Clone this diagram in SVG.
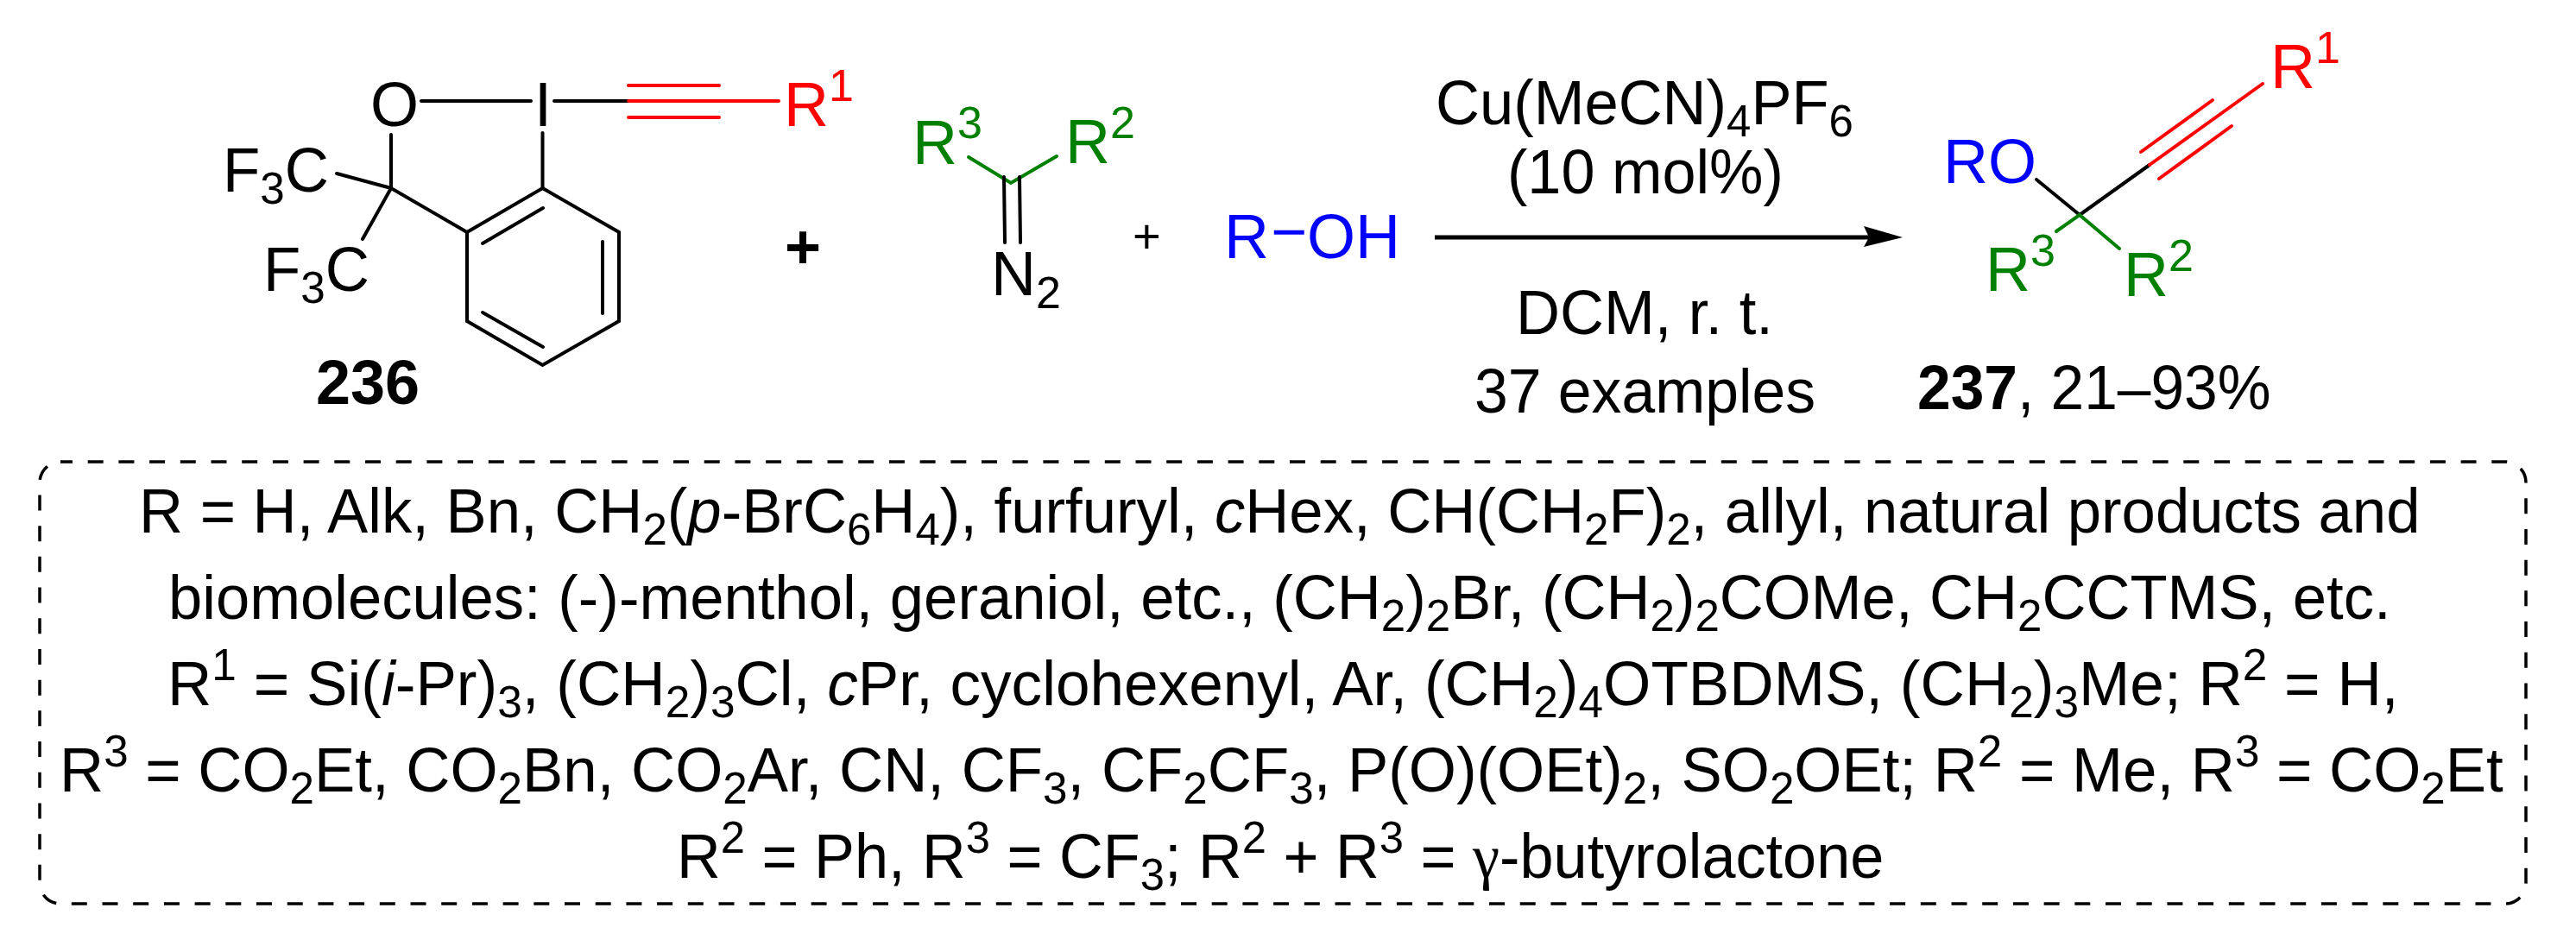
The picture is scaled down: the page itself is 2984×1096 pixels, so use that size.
<svg xmlns="http://www.w3.org/2000/svg" width="2984" height="1096" viewBox="0 0 2984 1096">
<style>
text{font-family:"Liberation Sans",Arial,sans-serif;font-size:72px;fill:#000}
.b{font-weight:bold}
.i{font-style:italic}
.s{font-size:52px}
.y{font-family:"Liberation Serif",serif}
.red{fill:#f00}.grn{fill:#008000}.blu{fill:#00f}
.k{stroke:#000}.r{stroke:#f00}.g{stroke:#008000}
line,polyline,polygon.ring{stroke-width:4;stroke-linecap:round;fill:none}
</style>
<rect width="2984" height="1096" fill="#fff"/>
<g id="reagent-236">
<polygon class="ring k" points="628.5,218 717,269 717,372 628.5,423 541,372 541,269"/>
<line class="k" x1="559" y1="282" x2="629" y2="241"/>
<line class="k" x1="698" y1="280" x2="698" y2="363"/>
<line class="k" x1="559" y1="362" x2="629" y2="402"/>
<line class="k" x1="488" y1="117" x2="615" y2="117"/>
<line class="k" x1="642" y1="117" x2="728" y2="117"/>
<line class="r" x1="728" y1="117" x2="902" y2="117"/>
<line class="r" x1="728" y1="99" x2="833" y2="99"/>
<line class="r" x1="728" y1="136" x2="833" y2="136"/>
<line class="k" x1="453" y1="156" x2="453" y2="218"/>
<line class="k" x1="628.5" y1="154" x2="628.5" y2="218"/>
<line class="k" x1="453" y1="218" x2="390" y2="201"/>
<line class="k" x1="453" y1="218" x2="420" y2="277"/>
<line class="k" x1="453" y1="218" x2="541" y2="269"/>
<text x="429" y="146">O</text>
<text x="619" y="146">I</text>
<text class="red" x="908" y="146">R<tspan class="s" dy="-29">1</tspan></text>
<text transform="translate(258 222) scale(.985 1)">F<tspan class="s" dy="14">3</tspan><tspan dy="-14">C</tspan></text>
<text transform="translate(305 337) scale(.985 1)">F<tspan class="s" dy="14">3</tspan><tspan dy="-14">C</tspan></text>
<text class="b" x="366" y="468">236</text>
</g>
<text id="plus-1" class="b" x="909" y="311">+</text>
<g id="diazo">
<polyline class="g" points="1122,182 1171,212 1224,181"/>
<line class="k" x1="1163" y1="205" x2="1164" y2="281"/>
<line class="k" x1="1181" y1="205" x2="1182" y2="281"/>
<text class="grn" x="1057" y="190">R<tspan class="s" dy="-30">3</tspan></text>
<text class="grn" x="1234" y="189">R<tspan class="s" dy="-29">2</tspan></text>
<text x="1148" y="342">N<tspan class="s" dy="15">2</tspan></text>
</g>
<text id="plus-2" style="font-size:56px" x="1312" y="293">+</text>
<text id="alcohol" class="blu" x="1418" y="299">R<tspan dx="2" dy="-6">−</tspan><tspan dy="6">OH</tspan></text>
<g id="arrow">
<line class="k" style="stroke-width:5;stroke-linecap:butt" x1="1662" y1="275" x2="2170" y2="275"/>
<polygon points="2204,275 2159,262 2165,275 2159,286" fill="#000"/>
</g>
<g id="conditions">
<text transform="translate(1663 144) scale(.98 1)">Cu(MeCN)<tspan class="s" dy="14">4</tspan><tspan dy="-14">PF</tspan><tspan class="s" dy="14">6</tspan></text>
<text transform="translate(1746 224) scale(.975 1)">(10 mol%)</text>
<text transform="translate(1756 387) scale(.98 1)">DCM, r. t.</text>
<text transform="translate(1708 478) scale(.968 1)">37 examples</text>
</g>
<g id="product-237">
<line class="k" x1="2490" y1="191" x2="2409" y2="249"/>
<line class="r" x1="2621" y1="97" x2="2490" y2="191"/>
<line class="r" x1="2563" y1="116" x2="2480" y2="176"/>
<line class="r" x1="2585" y1="146" x2="2501" y2="207"/>
<line class="k" x1="2359" y1="208" x2="2409" y2="249"/>
<line class="g" x1="2409" y1="249" x2="2455" y2="288"/>
<line class="g" x1="2409" y1="249" x2="2382" y2="268"/>
<text class="red" x="2630" y="102">R<tspan class="s" dy="-29">1</tspan></text>
<text class="blu" x="2251" y="212">RO</text>
<text class="grn" x="2300" y="337">R<tspan class="s" dy="-29">3</tspan></text>
<text class="grn" x="2460" y="343">R<tspan class="s" dy="-29">2</tspan></text>
<text transform="translate(2221 474) scale(.965 1)"><tspan class="b">237</tspan>, 21–93%</text>
</g>
<rect id="box" x="46" y="535" width="2880" height="512" rx="24" fill="none" stroke="#000" stroke-width="3.5" stroke-dasharray="18 17.7" stroke-dashoffset="4"/>
<g id="notes">
<text transform="translate(161 617) scale(.982 1)">R = H, Alk, Bn, CH<tspan class="s" dy="14">2</tspan><tspan dy="-14">(</tspan><tspan class="i">p</tspan>-BrC<tspan class="s" dy="14">6</tspan><tspan dy="-14">H</tspan><tspan class="s" dy="14">4</tspan><tspan dy="-14">), furfuryl, </tspan><tspan class="i">c</tspan>Hex, CH(CH<tspan class="s" dy="14">2</tspan><tspan dy="-14">F)</tspan><tspan class="s" dy="14">2</tspan><tspan dy="-14">, allyl, natural products and</tspan></text>
<text transform="translate(195 717) scale(.981 1)">biomolecules: (-)-menthol, geraniol, etc., (CH<tspan class="s" dy="14">2</tspan><tspan dy="-14">)</tspan><tspan class="s" dy="14">2</tspan><tspan dy="-14">Br, (CH</tspan><tspan class="s" dy="14">2</tspan><tspan dy="-14">)</tspan><tspan class="s" dy="14">2</tspan><tspan dy="-14">COMe, CH</tspan><tspan class="s" dy="14">2</tspan><tspan dy="-14">CCTMS, etc.</tspan></text>
<text transform="translate(194 817) scale(.988 1)">R<tspan class="s" dy="-29">1</tspan><tspan dy="29"> = Si(</tspan><tspan class="i">i</tspan>-Pr)<tspan class="s" dy="14">3</tspan><tspan dy="-14">, (CH</tspan><tspan class="s" dy="14">2</tspan><tspan dy="-14">)</tspan><tspan class="s" dy="14">3</tspan><tspan dy="-14">Cl, </tspan><tspan class="i">c</tspan>Pr, cyclohexenyl, Ar, (CH<tspan class="s" dy="14">2</tspan><tspan dy="-14">)</tspan><tspan class="s" dy="14">4</tspan><tspan dy="-14">OTBDMS, (CH</tspan><tspan class="s" dy="14">2</tspan><tspan dy="-14">)</tspan><tspan class="s" dy="14">3</tspan><tspan dy="-14">Me; R</tspan><tspan class="s" dy="-29">2</tspan><tspan dy="29"> = H,</tspan></text>
<text transform="translate(69 917) scale(.984 1)">R<tspan class="s" dy="-29">3</tspan><tspan dy="29"> = CO</tspan><tspan class="s" dy="14">2</tspan><tspan dy="-14">Et, CO</tspan><tspan class="s" dy="14">2</tspan><tspan dy="-14">Bn, CO</tspan><tspan class="s" dy="14">2</tspan><tspan dy="-14">Ar, CN, CF</tspan><tspan class="s" dy="14">3</tspan><tspan dy="-14">, CF</tspan><tspan class="s" dy="14">2</tspan><tspan dy="-14">CF</tspan><tspan class="s" dy="14">3</tspan><tspan dy="-14">, P(O)(OEt)</tspan><tspan class="s" dy="14">2</tspan><tspan dy="-14">, SO</tspan><tspan class="s" dy="14">2</tspan><tspan dy="-14">OEt; R</tspan><tspan class="s" dy="-29">2</tspan><tspan dy="29"> = Me, R</tspan><tspan class="s" dy="-29">3</tspan><tspan dy="29"> = CO</tspan><tspan class="s" dy="14">2</tspan><tspan dy="-14">Et</tspan></text>
<text transform="translate(784 1017) scale(.976 1)">R<tspan class="s" dy="-29">2</tspan><tspan dy="29"> = Ph, R</tspan><tspan class="s" dy="-29">3</tspan><tspan dy="29"> = CF</tspan><tspan class="s" dy="14">3</tspan><tspan dy="-14">; R</tspan><tspan class="s" dy="-29">2</tspan><tspan dy="29"> + R</tspan><tspan class="s" dy="-29">3</tspan><tspan dy="29"> = </tspan><tspan class="y">γ</tspan>-butyrolactone</text>
</g>
</svg>
